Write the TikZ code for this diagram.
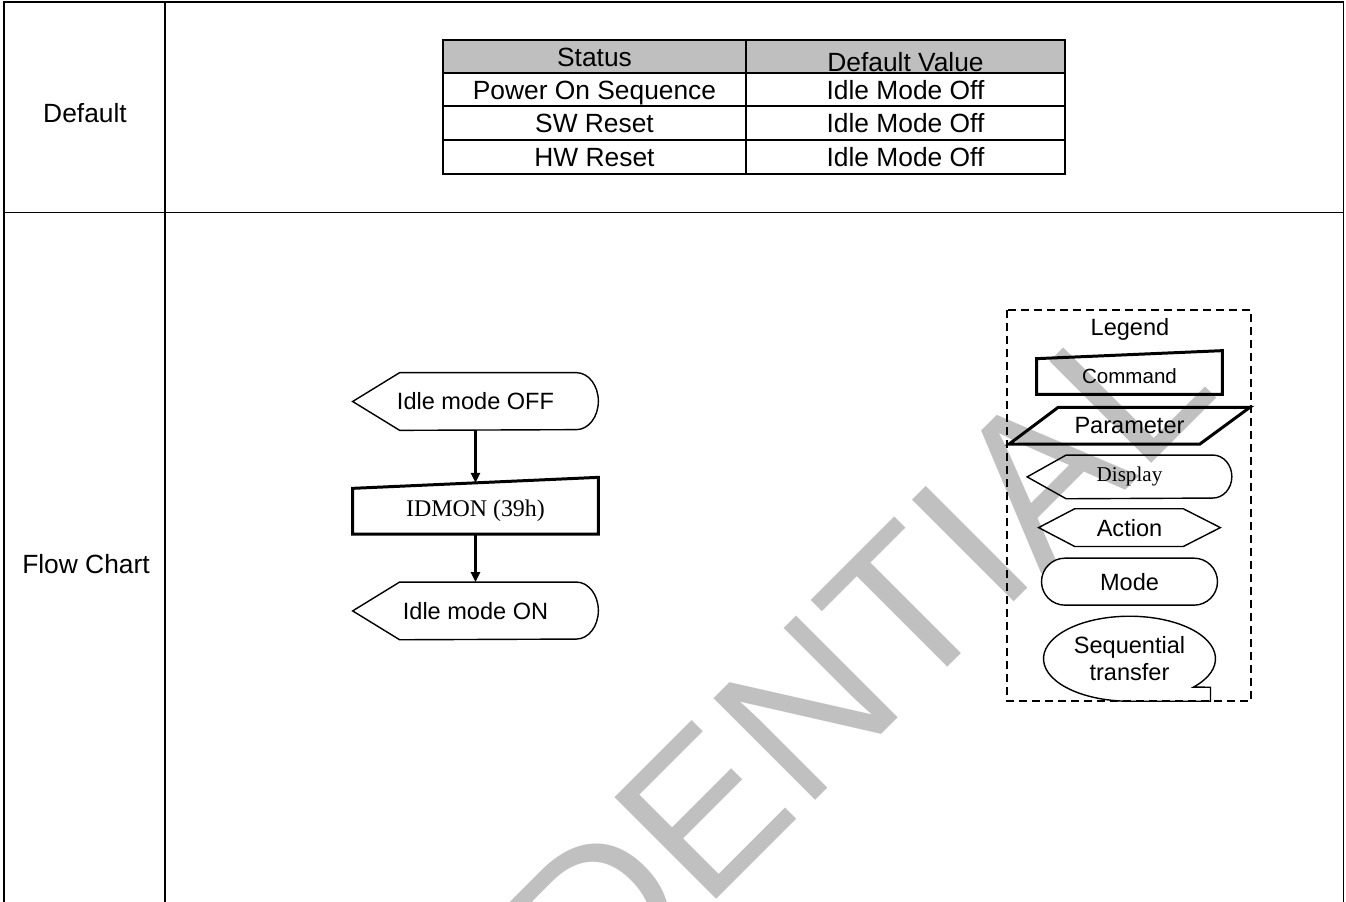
\documentclass[tikz,border=0pt]{standalone}
\usepackage{fontspec}
\setmainfont{Liberation Sans}
\newfontfamily\serifft{Liberation Serif}
\usetikzlibrary{arrows.meta, positioning}
\definecolor{headgray}{RGB}{191, 191, 191}
\definecolor{markgray}{RGB}{192, 192, 192}

\begin{document}
\begin{tikzpicture}[
    node distance=0.2cm,
    >={Triangle[length=0.2cm, width=0.18cm]},
    outerline/.style={line width=1.1pt, black},
    tabline/.style={line width=0.8pt, black},
    cell/.style={inner sep=0pt, anchor=base, font=\fontsize{15}{18}\selectfont},
    fbox/.style={inner sep=0pt, font=\fontsize{13.4}{15.3}\selectfont},
    shapeline/.style={line width=0.8pt},
    boldline/.style={line width=1.7pt},
    arr/.style={->, line width=1.4pt},
    legendbox/.style={line width=1.1pt, dash pattern=on 0.16cm off 0.1cm},
]
\useasboundingbox (0,0) rectangle (26.92,-18.04);

% --- Watermark ---
\begin{scope}
  \clip (0,0) rectangle (26.92,-18.04);
  \node[markgray, rotate=45, inner sep=0pt, font=\fontsize{119}{130}\selectfont]
        (mark) at (12.58,-17.70) {CONFIDENTIAL};
\end{scope}

% --- Outer frame ---
\draw[outerline] (0.08,-18.1) -- (0.08,-0.04) -- (26.87,-0.04) -- (26.87,-18.1);
\draw[outerline] (3.30,-0.04) -- (3.30,-18.1);
\draw[outerline] (0.08,-4.25) -- (26.87,-4.25);

\node[cell, anchor=center] (lbl_def) at (1.70,-2.26) {Default};
\node[cell, anchor=center] (lbl_flow) at (1.72,-11.28) {Flow Chart};

% --- Default table ---
\fill[headgray] (8.86,-0.80) rectangle (21.30,-1.46);
\draw[tabline] (8.86,-0.80) rectangle (21.30,-3.48);
\draw[tabline] (14.92,-0.80) -- (14.92,-3.48);
\draw[tabline] (8.86,-1.46) -- (21.30,-1.46);
\draw[tabline] (8.86,-2.12) -- (21.30,-2.12);
\draw[tabline] (8.86,-2.80) -- (21.30,-2.80);

\node[cell] (stat_h) at (11.89,-1.32) {Status};
\node[cell] (val_h) at (18.11,-1.43) {Default Value};
\node[cell] (pon_s) at (11.89,-1.98) {Power On Sequence};
\node[cell] (pon_v) at (18.11,-1.98) {Idle Mode Off};
\node[cell] (swr_s) at (11.89,-2.65) {SW Reset};
\node[cell] (swr_v) at (18.11,-2.65) {Idle Mode Off};
\node[cell] (hwr_s) at (11.89,-3.33) {HW Reset};
\node[cell] (hwr_v) at (18.11,-3.33) {Idle Mode Off};

% --- Flow chart ---
\node[fbox, minimum width=4.9cm, minimum height=1.14cm] (off) at (9.51,-8.03) {Idle mode OFF};
\node[fbox, minimum width=4.9cm, minimum height=0.9cm, below=1.16cm of off,
      font=\serifft\fontsize{13.6}{16}\selectfont] (idmon) {IDMON (39h)};
\node[fbox, minimum width=4.9cm, minimum height=1.14cm, below=0.96cm of idmon] (on) {Idle mode ON};

\draw[shapeline] (off.west) -- ([xshift=0.94cm]off.north west) -- ([xshift=-0.44cm]off.north east)
    arc[start angle=90, end angle=-90, x radius=0.44cm, y radius=0.57cm]
    -- ([xshift=0.94cm]off.south west) -- cycle;
\draw[boldline] (idmon.south west) -- (idmon.north west)
    -- ([yshift=0.22cm]idmon.north east) -- (idmon.south east) -- cycle;
\draw[shapeline] (on.west) -- ([xshift=0.94cm]on.north west) -- ([xshift=-0.44cm]on.north east)
    arc[start angle=90, end angle=-90, x radius=0.44cm, y radius=0.57cm]
    -- ([xshift=0.94cm]on.south west) -- cycle;

\draw[arr] (off) -- ([yshift=0.11cm]idmon.north);
\draw[arr] (idmon) -- (on);

% --- Legend ---
\draw[legendbox] (20.14,-6.20) rectangle (25.02,-14.02);
\node[fbox] (leg_t) at (22.60,-6.58) {Legend};

\node[inner sep=0pt, minimum width=3.7cm, minimum height=0.7cm,
      font=\fontsize{11.7}{14}\selectfont] (leg_cmd) at (22.59,-7.53) {Command};
\node[fbox, minimum width=4.8cm, minimum height=0.72cm, below=0.26cm of leg_cmd] (leg_par) {Parameter};
\node[fbox, minimum width=4.08cm, minimum height=0.86cm, below=0.22cm of leg_par,
      font=\serifft\fontsize{12}{14}\selectfont] (leg_disp) {Display};
\node[fbox, minimum width=3.62cm, minimum height=0.74cm, below=0.2cm of leg_disp] (leg_act) {Action};
\node[fbox, draw, shapeline, rounded corners=0.47cm, minimum width=3.52cm, minimum height=0.94cm,
      below=0.22cm of leg_act] (leg_mode) {Mode};
\node[fbox, align=center, minimum width=3.44cm, minimum height=1.7cm,
      below=0.2cm of leg_mode] (leg_seq) {Sequential\\transfer};

\draw[boldline] (leg_cmd.south west) -- (leg_cmd.north west)
    -- ([yshift=0.16cm]leg_cmd.north east) -- (leg_cmd.south east) -- cycle;
\draw[boldline] (leg_par.south west) -- ([xshift=0.98cm]leg_par.north west)
    -- (leg_par.north east) -- ([xshift=-1.0cm]leg_par.south east) -- cycle;
\draw[shapeline] (leg_disp.west) -- ([xshift=0.78cm]leg_disp.north west) -- ([xshift=-0.38cm]leg_disp.north east)
    arc[start angle=90, end angle=-90, x radius=0.38cm, y radius=0.43cm]
    -- ([xshift=0.78cm]leg_disp.south west) -- cycle;
\draw[shapeline] (leg_act.west) -- ([xshift=0.72cm]leg_act.north west) -- ([xshift=-0.74cm]leg_act.north east)
    -- (leg_act.east) -- ([xshift=-0.74cm]leg_act.south east) -- ([xshift=0.72cm]leg_act.south west) -- cycle;
\draw[shapeline] ([shift={(-42:1.72cm and 0.85cm)}]leg_seq.center)
    arc[start angle=-42, end angle=270, x radius=1.72cm, y radius=0.85cm]
    -- ++(1.62cm,0) -- ++(0,0.28cm) -- cycle;

\end{tikzpicture}
\end{document}
